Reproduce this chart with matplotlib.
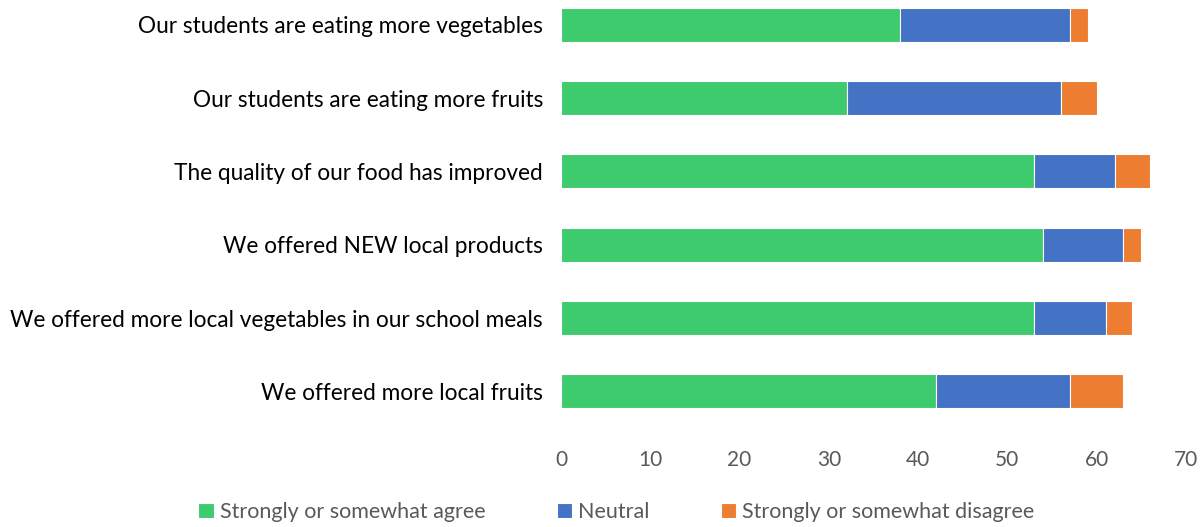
import matplotlib.pyplot as plt
import numpy as np

# survey statements, listed bottom to top
statements = [
    "We offered more local fruits",
    "We offered more local vegetables in our school meals",
    "We offered NEW local products",
    "The quality of our food has improved",
    "Our students are eating more fruits",
    "Our students are eating more vegetables",
]
agree = [42, 53, 54, 53, 32, 38]
neutral = [15, 8, 9, 9, 24, 19]
disagree = [6, 3, 2, 4, 4, 2]

series_names = ["Strongly or somewhat agree", "Neutral",
                "Strongly or somewhat disagree"]
colors = ["#3ECB6E", "#4472C4", "#ED7D31"]

plt.rcParams['font.family'] = ['Lato', 'DejaVu Sans']

fig = plt.figure(figsize=(12.04, 5.27), dpi=100)
ax = fig.add_axes([0.466, 0.188, 0.519, 0.812])

y = np.arange(len(statements))
left = np.zeros(len(statements))
for vals, name, col in zip([agree, neutral, disagree], series_names, colors):
    ax.barh(y, vals, left=left, height=0.465, color=col, label=name,
            edgecolor='white', linewidth=0.8)
    left = left + np.array(vals)

ax.set_xlim(0, 70)
ax.set_ylim(-0.5, 5.34)
ax.set_xticks(range(0, 71, 10))
ax.set_yticks(y)
ax.set_yticklabels(statements, fontsize=16.3, color='black')
ax.tick_params(axis='x', labelsize=15, labelcolor='#595959', length=0, pad=16)
ax.tick_params(axis='y', length=0, pad=13)
for side in ax.spines.values():
    side.set_visible(False)

fig.legend(loc='center', bbox_to_anchor=(0.512, 0.028), ncol=3,
           frameon=False, fontsize=15.5, handlelength=0.7, handleheight=0.7,
           handletextpad=0.3, columnspacing=3.3, labelcolor='#595959')

fig.savefig('out.png', dpi=100)
